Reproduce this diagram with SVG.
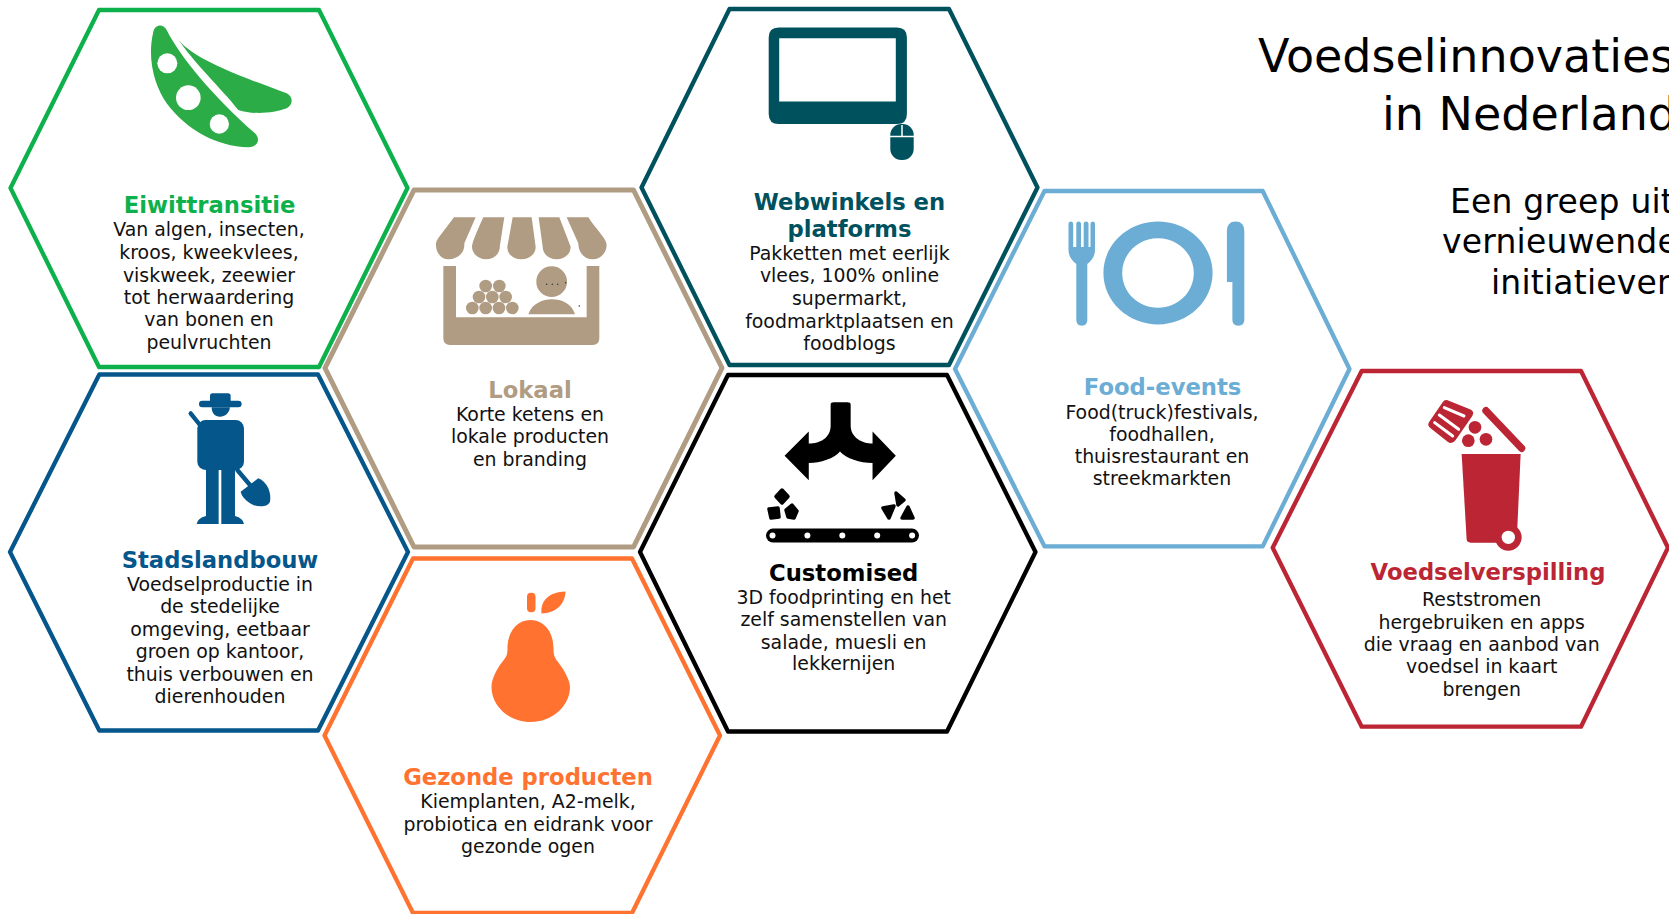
<svg xmlns="http://www.w3.org/2000/svg" width="1669" height="914" viewBox="0 0 1669 914">
<style>
.hex{fill:none;stroke-width:4.300;stroke-linejoin:round}
text{font-family:"DejaVu Sans","Liberation Sans",sans-serif;text-anchor:middle}
.b{font-size:18.900px;fill:#111}
.h{font-size:22.700px;font-weight:bold}
.t1{font-size:46px;fill:#000;text-anchor:start}
.t2{font-size:33px;fill:#000;text-anchor:start;letter-spacing:.2px}
</style>
<rect width="1669" height="914" fill="#fff"/>
<g id="title">
<text class="t1" x="1258" y="72">Voedselinnovaties</text>
<text class="t1" x="1382" y="129.500">in Nederland</text>
<text class="t2" x="1450" y="213">Een greep uit</text>
<text class="t2" x="1442" y="252.500">vernieuwende</text>
<text class="t2" x="1491" y="293.500">initiatieven</text>
</g>
<g id="eiwittransitie">
<polygon class="hex" stroke="#0db14b" points="99,10 319,10 407.500,188 319,367 99,367 10.500,188"/>
<g transform="translate(130 10) scale(.3333)" fill="#2bac47">
<path d="M70 65C75 42 100 40 110 60C150 140 250 260 375 370C392 387 385 410 355 412C260 410 170 360 110 280C75 230 50 150 70 65Z"/>
<path d="M135 75C170 130 250 170 470 250C490 260 490 285 470 295C430 310 370 315 325 300C270 230 200 170 135 75Z"/>
<g fill="#fff"><circle cx="112" cy="160" r="30"/><circle cx="175" cy="263" r="37"/><circle cx="268" cy="342" r="29"/></g>
</g>
<text class="h" fill="#0db14b" x="209.500" y="212.700">Eiwittransitie</text>
<g class="b"><text x="209" y="236">Van algen, insecten,</text><text x="209" y="259">kroos, kweekvlees,</text><text x="209" y="281.700">viskweek, zeewier</text><text x="209" y="304">tot herwaardering</text><text x="209" y="326">van bonen en</text><text x="209" y="349">peulvruchten</text></g>
</g>
<g id="lokaal">
<polygon class="hex" stroke="#b09c83" stroke-width="5" style="stroke-width:5" points="414,190 633.500,190 722,368 633.500,547 414,547 325,368"/>
<g transform="translate(410 200) scale(.3333)" fill="#b09c83">
<path d="M132 52H197L163 130C165 165 135 178 115 178C95 178 78 160 78 135C78 120 85 115 132 52Z"/>
<path d="M220 52H283L270 135C270 165 250 178 228 178C205 178 186 160 186 140C186 130 200 95 220 52Z"/>
<path d="M308 52H365L377 140C377 165 355 178 334 178C312 178 292 165 292 140Z"/>
<path d="M386 52H448L482 140C482 165 460 178 440 178C415 178 398 160 398 140Z"/>
<path d="M470 52H535C555 85 590 115 590 135C590 160 570 178 548 178C525 178 505 160 505 130Z"/>
<path d="M100 198H138V352H530V198H568V415Q568 435 548 435H120Q100 435 100 415Z"/>
<circle cx="425" cy="245" r="46"/>
<path d="M355 343C365 310 400 298 425 298C455 298 485 310 495 343Z"/>
<g><circle cx="227" cy="258" r="19"/><circle cx="268" cy="258" r="19"/><circle cx="207" cy="291" r="19"/><circle cx="247" cy="291" r="19"/><circle cx="287" cy="291" r="19"/><circle cx="187" cy="324" r="19"/><circle cx="227" cy="324" r="19"/><circle cx="267" cy="324" r="19"/><circle cx="307" cy="324" r="19"/></g>
<g fill="#333"><circle cx="410" cy="253" r="2.200"/><circle cx="427" cy="253" r="2.200"/><circle cx="443" cy="253" r="2.200"/><circle cx="467" cy="248" r="2.200"/><circle cx="508" cy="318" r="2.200"/></g>
</g>
<text class="h" fill="#b09c83" x="530" y="397.700">Lokaal</text>
<g class="b"><text x="530" y="421">Korte ketens en</text><text x="530" y="443">lokale producten</text><text x="530" y="466">en branding</text></g>
</g>
<g id="webwinkels">
<polygon class="hex" stroke="#00515e" points="729.500,9 949,9 1037.500,187.500 949,365 729.500,365 641.500,187.500"/>
<path fill="#00515e" fill-rule="evenodd" d="M778.700 27.500H896.900Q906.900 27.500 906.900 37.500V114Q906.900 124 896.900 124H778.700Q768.700 124 768.700 114V37.500Q768.700 27.500 778.700 27.500ZM779.200 38.200V101.400H895.800V38.200Z"/>
<rect x="890.300" y="124" width="23.400" height="36" rx="11" fill="#00515e"/>
<path d="M890 136.400H914M902 125V136.400" stroke="#fff" stroke-width="1.500" fill="none"/>
<text class="h" fill="#00515e" x="849.500" y="210">Webwinkels en</text>
<text class="h" fill="#00515e" x="849.500" y="236.700">platforms</text>
<g class="b"><text x="849.500" y="260.200">Pakketten met eerlijk</text><text x="849.500" y="282">vlees, 100% online</text><text x="849.500" y="305">supermarkt,</text><text x="849.500" y="327.500">foodmarktplaatsen en</text><text x="849.500" y="350">foodblogs</text></g>
</g>
<g id="food-events">
<polygon class="hex" stroke="#6badd4" points="1044.500,191 1262.700,191 1349.500,369 1262.700,546.400 1044.500,546.400 955,369"/>
<g fill="#6badd4">
<path d="M1068.500 224Q1068.500 221.400 1071 221.400Q1073.200 221.400 1073.200 224V247H1076.300V224Q1076.300 221.400 1078.600 221.400Q1081 221.400 1081 224V247H1083.700V224Q1083.700 221.400 1086 221.400Q1088.500 221.400 1088.500 224V247H1090.500V224Q1090.500 221.400 1092.700 221.400Q1095 221.400 1095 224V250Q1095 258 1087.300 264V320Q1087.300 325.700 1081.800 325.700Q1076.300 325.700 1076.300 320V264Q1068.500 258 1068.500 250Z"/>
<path fill-rule="evenodd" d="M1158 221.600C1188 221.600 1212.600 244.600 1212.600 273C1212.600 301.400 1188 324.400 1158 324.400C1128 324.400 1103.400 301.400 1103.400 273C1103.400 244.600 1128 221.600 1158 221.600ZM1158 238.200C1138 238.200 1122.200 253.800 1122.200 273C1122.200 292.200 1138 307.800 1158 307.800C1178 307.800 1193.800 292.200 1193.800 273C1193.800 253.800 1178 238.200 1158 238.200Z"/>
<path d="M1226.900 231Q1226.900 221.400 1235.600 221.400Q1244.300 221.400 1244.300 231V320Q1244.300 325.700 1238.300 325.700Q1232.400 325.700 1232.400 320V282H1226.900Z"/>
</g>
<text class="h" fill="#6badd4" x="1162.600" y="395">Food-events</text>
<g class="b"><text x="1162" y="418.600">Food(truck)festivals,</text><text x="1162" y="441.400">foodhallen,</text><text x="1162" y="463.300">thuisrestaurant en</text><text x="1162" y="485">streekmarkten</text></g>
</g>
<g id="customised">
<polygon class="hex" stroke="#000" points="728,375 947,375 1035.500,552 947,731.500 728,731.500 640,552"/>
<path transform="translate(320 370) scale(.4655 .347)" d="M1097 100Q1097 93 1104 93H1133Q1140 93 1140 100V160C1140 195 1165 212 1187 212V177L1237 247L1187 318V268C1160 268 1130 255 1117 235C1105 255 1075 268 1050 268V318L998 247L1050 177V212C1075 212 1097 195 1097 160Z"/>
<g stroke="#000" stroke-width="3.500" stroke-linejoin="round">
<polygon points="782,490 788,496.500 782,503 776,496.500"/>
<polygon points="769,509 778,508 779,517 771,518"/>
<polygon points="792,505 797,511 794,518 788,517 786,510"/>
<polygon points="896,493 904,500 898,505"/>
<polygon points="883,508 894,506 889,518"/>
<polygon points="908,507 913,518 902,518"/>
</g>
<rect x="766" y="528.600" width="153" height="14" rx="7"/>
<g fill="#fff"><circle cx="772.500" cy="535.500" r="3"/><circle cx="807.400" cy="535.500" r="3"/><circle cx="842.300" cy="535.500" r="3"/><circle cx="877.200" cy="535.500" r="3"/><circle cx="912.100" cy="535.500" r="3"/></g>
<text class="h" fill="#000" x="843.700" y="580.700">Customised</text>
<g class="b"><text x="843.700" y="603.500">3D foodprinting en het</text><text x="843.700" y="625.700">zelf samenstellen van</text><text x="843.700" y="648.500">salade, muesli en</text><text x="843.700" y="670">lekkernijen</text></g>
</g>
<g id="gezonde-producten">
<polygon class="hex" stroke="#ff7230" points="413,558.500 632,558.500 720,735.500 632,913 413,913 324.500,735.500"/>
<g fill="#ff7230">
<rect x="527" y="592.800" width="8.500" height="19.500" rx="4"/>
<path d="M541.500 613.500C540 600 550 592 565.500 591.500C565 605 555 613 541.500 613.500Z"/>
<path d="M530.500 620C544 620 553.500 632 553.500 648C553.500 654 554 657 558 662C565 671 570 681 570 687C570 706 552 722 530.500 722C509 722 491.500 706 491.500 687C491.500 678 498 667 503 661C507 656 507.500 654 507.500 648C507.500 632 517 620 530.500 620Z"/>
</g>
<text class="h" fill="#ff7230" x="528" y="784.700">Gezonde producten</text>
<g class="b"><text x="528" y="808">Kiemplanten, A2-melk,</text><text x="528" y="831">probiotica en eidrank voor</text><text x="528" y="853">gezonde ogen</text></g>
</g>
<g id="stadslandbouw">
<polygon class="hex" stroke="#05568b" points="99.300,374.500 318,374.500 408,552 318,730.500 99.300,730.500 10,552"/>
<g transform="translate(0 370) scale(.3333)" fill="#05568b">
<rect x="597" y="92" width="128" height="20" rx="10"/>
<rect x="630" y="70" width="62" height="35" rx="8"/>
<path d="M635 112H690C688 130 675 140 660 140C645 140 635 130 635 112Z"/>
<rect x="592" y="150" width="140" height="150" rx="25"/>
<path d="M618 290H656V462H590Q592 445 618 438Z"/>
<path d="M664 290H705V438Q730 445 732 462H664Z"/>
<path d="M572 130L600 165M712 300L750 345" stroke="#05568b" stroke-width="13" stroke-linecap="round" fill="none"/>
<path d="M775 325C800 335 815 365 810 395C805 410 780 412 760 405C740 395 725 380 722 365Z"/>
</g>
<text class="h" fill="#05568b" x="220" y="568">Stadslandbouw</text>
<g class="b"><text x="220" y="590.700">Voedselproductie in</text><text x="220" y="613.300">de stedelijke</text><text x="220" y="635.700">omgeving, eetbaar</text><text x="220" y="657.500">groen op kantoor,</text><text x="220" y="680.700">thuis verbouwen en</text><text x="220" y="703">dierenhouden</text></g>
</g>
<g id="voedselverspilling">
<polygon class="hex" stroke="#bc2534" points="1361.700,371 1581,371 1668,547.700 1581,726.700 1361.700,726.700 1272.700,547.700"/>
<g transform="translate(1260 360) scale(.3333)" fill="#bc2534">
<path d="M605 282H782L772 505L720 548H632Q621 548 620 538Z"/>
<circle cx="745" cy="532" r="40"/>
<circle cx="745" cy="532" r="20" fill="#fff"/>
<path d="M678 152L785 265" stroke="#bc2534" stroke-width="22" stroke-linecap="round" fill="none"/>
<path d="M548 127Q555 116 568 123L630 148Q645 155 637 168L587 240Q576 255 563 245L512 205Q500 196 508 185Z"/>
<path d="M553 143L612 168M538 165L596 208M524 188L578 228" stroke="#fff" stroke-width="9" stroke-linecap="round" fill="none"/>
<circle cx="645" cy="202" r="19"/><circle cx="625" cy="242" r="19"/><circle cx="678" cy="238" r="19"/>
</g>
<text class="h" fill="#bc2534" x="1488" y="580.300">Voedselverspilling</text>
<g class="b"><text x="1481.700" y="606">Reststromen</text><text x="1481.700" y="629">hergebruiken en apps</text><text x="1481.700" y="651">die vraag en aanbod van</text><text x="1481.700" y="672.700">voedsel in kaart</text><text x="1481.700" y="696">brengen</text></g>
</g>
</svg>
